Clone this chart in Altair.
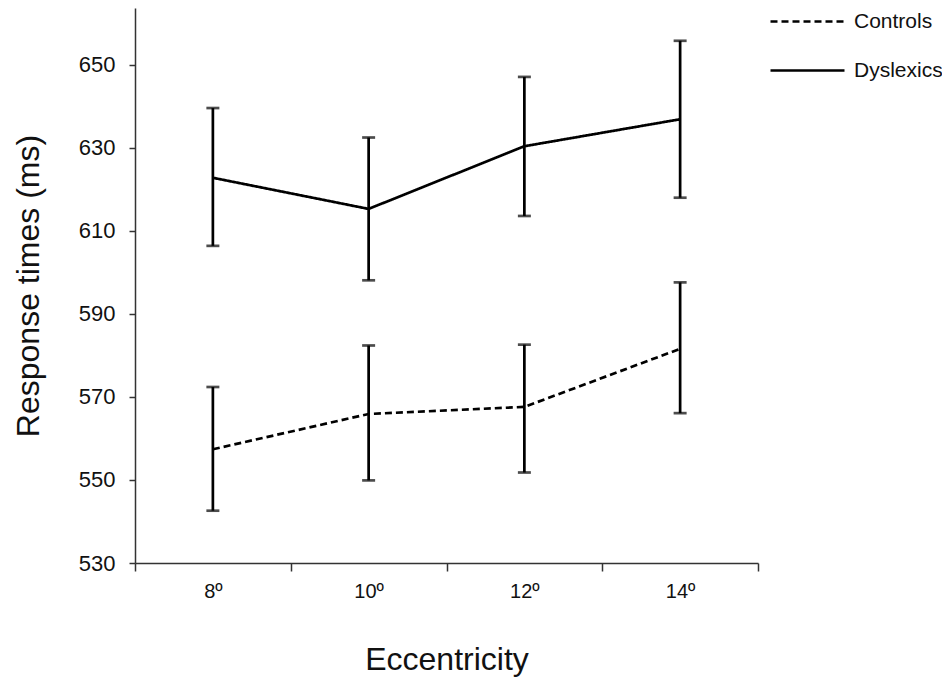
import altair as alt
import pandas as pd

ecc_deg = [8, 10, 12, 14]
ecc_labels = ["8º", "10º", "12º", "14º"]
groups = ["Controls", "Dyslexics"]

controls_mean = [557.4, 565.9, 567.6, 581.6]
controls_lo = [542.6, 549.9, 551.8, 566.1]
controls_hi = [572.4, 582.4, 582.6, 597.6]

dys_mean = [622.8, 615.3, 630.4, 636.9]
dys_lo = [606.4, 598.1, 613.6, 618.0]
dys_hi = [639.6, 632.5, 647.1, 655.8]

rows = []
for g, m, lo, hi in [("Controls", controls_mean, controls_lo, controls_hi),
                     ("Dyslexics", dys_mean, dys_lo, dys_hi)]:
    for i in range(len(ecc_deg)):
        rows.append({"ecc": ecc_deg[i], "label": ecc_labels[i], "group": g,
                     "mean": m[i], "lo": lo[i], "hi": hi[i]})
df = pd.DataFrame(rows)

FONT = "Liberation Sans"

xscale = alt.Scale(domain=[7, 15], nice=False, zero=False)
yscale = alt.Scale(domain=[530, 663.7], nice=False, zero=False)

x_axis = alt.Axis(
    values=[7, 8, 9, 10, 11, 12, 13, 14, 15],
    labelExpr="datum.value % 2 == 0 ? datum.value + 'º' : ''",
    tickOpacity={"condition": {"test": "datum.value % 2 == 1", "value": 1}, "value": 0},
    tickSize=8, tickWidth=1.5, tickColor="#333",
    domainColor="#333", domainWidth=1.5,
    labelFontSize=20, labelFont=FONT, labelColor="#111", labelPadding=10,
    labelFlush=False, labelOverlap=False,
    title="Eccentricity", titleFontSize=32, titleFont=FONT, titleFontWeight="normal",
    titleColor="#111", titlePadding=43, grid=False,
)
y_axis = alt.Axis(
    values=[530, 550, 570, 590, 610, 630, 650],
    tickSize=6, tickWidth=1.5, tickColor="#333",
    domainColor="#333", domainWidth=1.5,
    labelFontSize=22, labelFont=FONT, labelColor="#111", labelPadding=14,
    title="Response times (ms)", titleFontSize=32, titleFont=FONT, titleFontWeight="normal",
    titleColor="#111", titlePadding=33, grid=False,
)

dash = alt.StrokeDash(
    "group:N",
    scale=alt.Scale(domain=groups, range=[[7, 4], [1, 0]]),
    legend=alt.Legend(
        title=None, orient="none", legendX=634, legendY=-25,
        symbolType="stroke", symbolSize=5476, symbolStrokeWidth=2.5,
        symbolStrokeColor="black", labelFontSize=21, labelFont=FONT,
        labelColor="#111", labelOffset=8, rowPadding=-48, padding=0,
    ),
)

base = alt.Chart(df)

lines = base.mark_line(color="black", strokeWidth=2.7).encode(
    x=alt.X("ecc:Q", scale=xscale, axis=x_axis),
    y=alt.Y("mean:Q", scale=yscale, axis=y_axis),
    strokeDash=dash,
    detail="group:N",
)

bars = base.mark_rule(color="black", strokeWidth=2.7).encode(
    x="ecc:Q", y="lo:Q", y2="hi:Q",
)
caps_lo = base.mark_tick(color="black", thickness=2.7, size=13, orient="horizontal").encode(
    x="ecc:Q", y="lo:Q",
)
caps_hi = base.mark_tick(color="black", thickness=2.7, size=13, orient="horizontal").encode(
    x="ecc:Q", y="hi:Q",
)

chart = alt.layer(lines, bars, caps_lo, caps_hi).properties(
    width=623, height=555,
    autosize=alt.AutoSizeParams(type="none"),
    padding={"left": 127, "top": 0, "right": 184, "bottom": 115},
).configure_view(stroke=None)

chart.save("out.html", embed_options={"renderer": "svg", "actions": False})
